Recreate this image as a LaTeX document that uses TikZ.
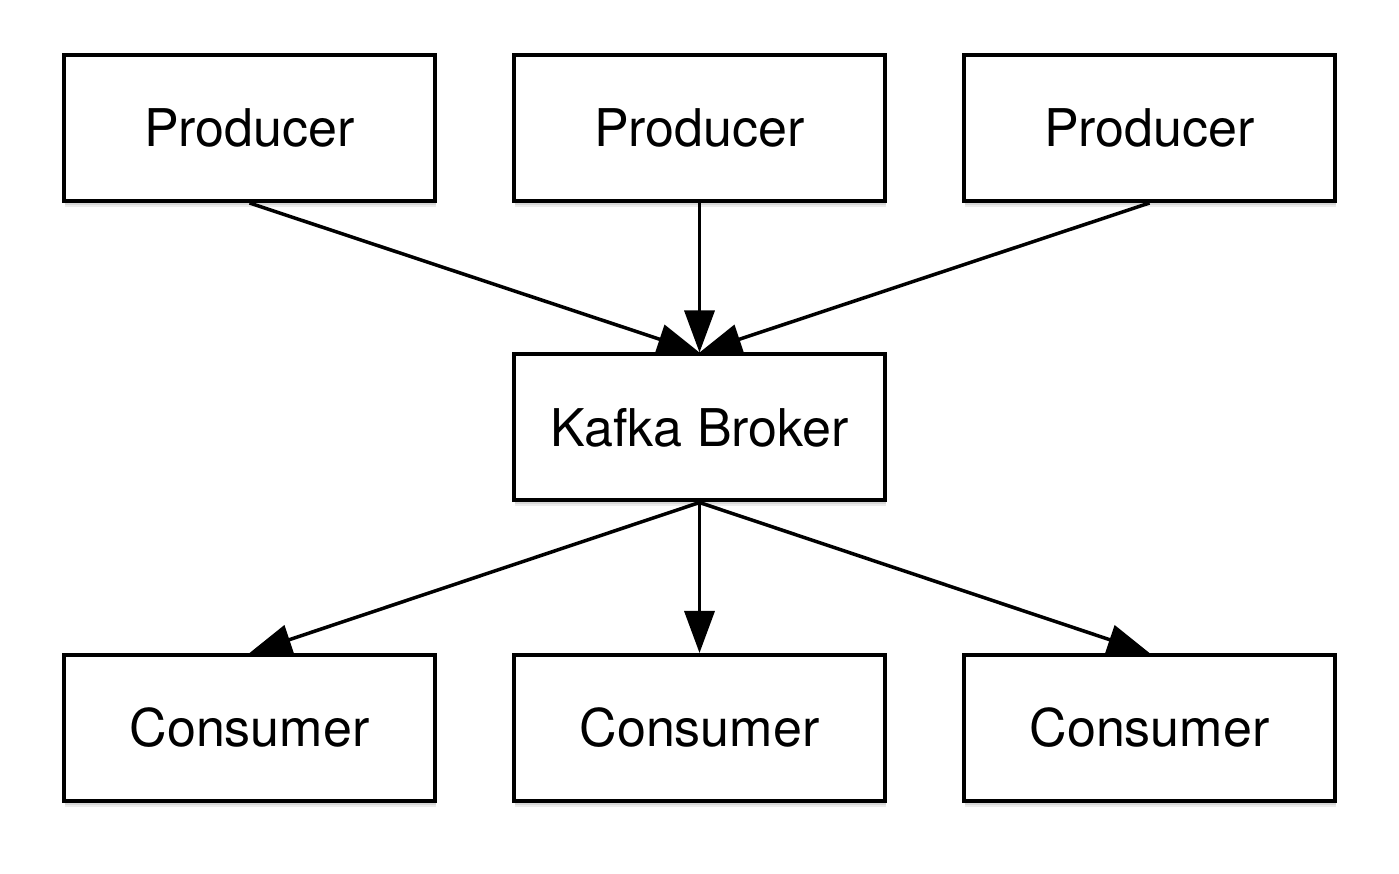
\documentclass[tikz,border=0pt]{standalone}
\usepackage{fontspec}
\setmainfont{TeX Gyre Heros}
\usetikzlibrary{arrows.meta,shadows}
\begin{document}
\begin{tikzpicture}[x=1pt,y=1pt,
  box/.style={draw,line width=4pt,fill=white,minimum width=371pt,minimum height=146pt,inner sep=0pt,font=\fontsize{52}{60}\selectfont,
    drop shadow={shadow xshift=1pt,shadow yshift=-6pt,opacity=0.15},drop shadow={shadow xshift=1pt,shadow yshift=-4pt,opacity=0.2}},
  flow/.style={line width=3.5pt,-{Triangle[length=42pt,width=30pt]}}]
\useasboundingbox (0,0) rectangle (1399,874);
\node[box] at (249.5,746) (p1) {Producer};
\node[box] at (699.5,746) (p2) {Producer};
\node[box] at (1149.5,746) (p3) {Producer};
\node[box] at (699.5,446.5) (k) {Kafka Broker};
\node[box] at (249.5,146) (c1) {Consumer};
\node[box] at (699.5,146) (c2) {Consumer};
\node[box] at (1149.5,146) (c3) {Consumer};
\draw[flow] (p1.south) -- (k.north);
\draw[flow] (p2.south) -- (k.north);
\draw[flow] (p3.south) -- (k.north);
\draw[flow] (k.south) -- (c1.north);
\draw[flow] (k.south) -- (c2.north);
\draw[flow] (k.south) -- (c3.north);
\end{tikzpicture}
\end{document}
